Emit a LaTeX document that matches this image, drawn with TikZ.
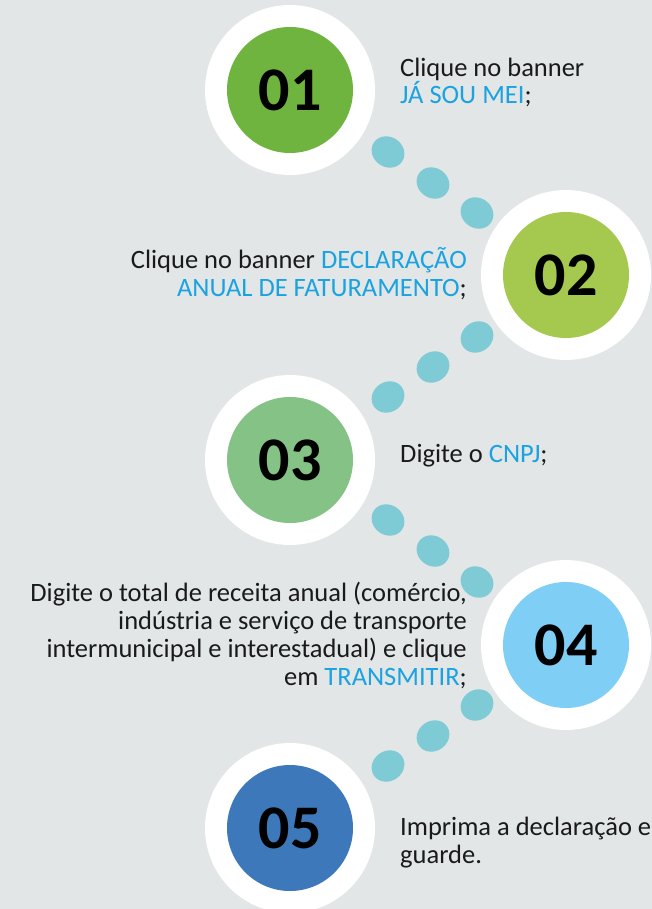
\documentclass[tikz,border=0pt]{standalone}
\usepackage{fontspec}
\setmainfont{Carlito}
\usetikzlibrary{shapes.geometric}
\definecolor{bg}{HTML}{E2E6E7}
\definecolor{cA}{HTML}{6FB43F}
\definecolor{cB}{HTML}{A5C84E}
\definecolor{cC}{HTML}{84C385}
\definecolor{cD}{HTML}{7FCEF5}
\definecolor{cE}{HTML}{3D78BB}
\definecolor{dotc}{HTML}{7ECBD5}
\definecolor{hl}{HTML}{1AA3E0}
\definecolor{txt}{HTML}{1A1A1A}
\tikzset{
  outer/.style={circle, fill=white, minimum size=170pt, inner sep=0pt},
  inner/.style={circle, minimum size=126pt, inner sep=0pt, text=black, font=\fontsize{62}{62}\selectfont\bfseries},
  dotnode/.style={ellipse, fill=dotc, minimum width=34pt, minimum height=30pt, inner sep=0pt},
  label/.style={inner sep=0pt, text=txt, font=\fontsize{26.5}{27.7}\selectfont},
}
\newcommand{\hlt}[1]{\textcolor{hl}{#1}}
\begin{document}
\begin{tikzpicture}[x=1pt,y=-1pt]
\fill[bg] (0,0) rectangle (652,909);
\useasboundingbox (0,0) rectangle (652,909);
% circles
\node[outer] (o1) at (290,90) {};
\node[inner, fill=cA] (n1) at (o1) {01};
\node[outer] (o2) at (566,275) {};
\node[inner, fill=cB] (n2) at (o2) {02};
\node[outer] (o3) at (290,460) {};
\node[inner, fill=cC] (n3) at (o3) {03};
\node[outer] (o4) at (566,645) {};
\node[inner, fill=cD] (n4) at (o4) {04};
\node[outer] (o5) at (290,828) {};
\node[inner, fill=cE] (n5) at (o5) {05};
% dots
\node[dotnode, rotate=-35] (d1) at (388,152) {};
\node[dotnode, rotate=-35] (d2) at (433,183) {};
\node[dotnode, rotate=-35] (d3) at (477,213) {};
\node[dotnode, rotate=35] (d4) at (477,337) {};
\node[dotnode, rotate=35] (d5) at (433,367) {};
\node[dotnode, rotate=35] (d6) at (388,397) {};
\node[dotnode, rotate=-35] (d7) at (388,520) {};
\node[dotnode, rotate=-35] (d8) at (433,551) {};
\node[dotnode, rotate=-35] (d9) at (477,582) {};
\node[dotnode, rotate=35] (d10) at (477,705) {};
\node[dotnode, rotate=35] (d11) at (433,736) {};
\node[dotnode, rotate=35] (d12) at (388,766) {};
% texts (base anchor = last line baseline)
\node[label, anchor=base west, align=left] (t1) at (400,104) {Clique no banner\\\hlt{JÁ SOU MEI};};
\node[label, anchor=base east, align=right] (t2) at (467,296) {Clique no banner \hlt{DECLARAÇÃO}\\\hlt{ANUAL DE FATURAMENTO};};
\node[label, anchor=base west, align=left] (t3) at (400,462) {Digite o \hlt{CNPJ};};
\node[label, anchor=base east, align=right] (t4) at (467,685) {Digite o total de receita anual (comércio,\\indústria e serviço de transporte\\intermunicipal e interestadual) e clique\\em \hlt{TRANSMITIR};};
\node[label, anchor=base west, align=left] (t5) at (400,863) {Imprima a declaração e\\guarde.};
\end{tikzpicture}
\end{document}
